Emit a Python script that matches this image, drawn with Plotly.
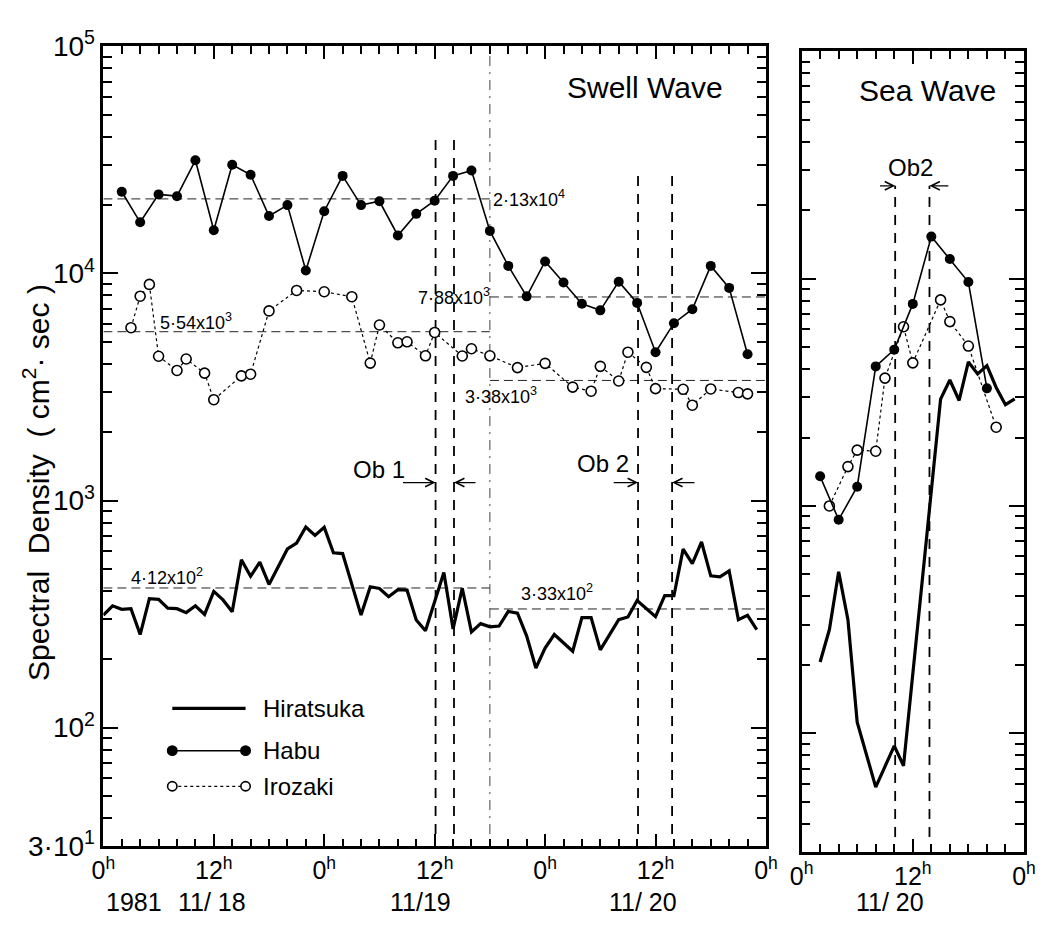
import math
import plotly.graph_objects as go

# ---------------- data ----------------
# Swell wave band, hours from 0h 11/18/1981
swell_hiratsuka_h = [0, 1, 2, 3, 4, 5, 6, 7, 8, 9, 10, 11, 12, 13, 14, 15, 16, 17, 18, 19,
                     20, 21, 22, 23, 24, 25, 26, 28, 29, 30, 31, 32, 33, 34, 35, 37, 38, 39,
                     40, 41, 42, 43, 44, 45, 46, 47, 48, 49, 51, 52, 53, 54, 56, 57, 58, 60,
                     61, 62, 63, 64, 65, 66, 67, 68, 69, 70, 71]
swell_hiratsuka = [313, 344, 332, 334, 257, 370, 367, 336, 334, 321, 344, 315, 398, 365, 324,
                   548, 464, 535, 427, 512, 612, 650, 765, 702, 762, 589, 584, 313, 417, 410,
                   377, 405, 403, 298, 267, 482, 272, 411, 264, 287, 278, 280, 325, 319, 253,
                   183, 224, 257, 217, 305, 305, 220, 299, 307, 363, 308, 381, 381, 611, 528,
                   657, 466, 461, 490, 299, 312, 270]

swell_habu_h = [2, 4, 6, 8, 10, 12, 14, 16, 18, 20, 22, 24, 26, 28, 30, 32, 34, 36, 38, 40,
                42, 44, 46, 48, 50, 52, 54, 56, 58, 60, 62, 64, 66, 68, 70]
swell_habu = [22900, 16800, 22300, 21900, 31500, 15500, 30100, 27200, 17900, 20000, 10300,
              18800, 26900, 20000, 20800, 14700, 18300, 20900, 26900, 28400, 15400, 10800,
              7930, 11300, 9130, 7360, 6880, 9200, 7420, 4500, 6040, 6960, 10800, 8640, 4410]

swell_irozaki_h = [3, 4, 5, 6, 8, 9, 11, 12, 15, 16, 18, 21, 24, 27, 29, 30, 32, 33, 35, 36,
                   39, 40, 42, 45, 48, 51, 53, 54, 56, 57, 59, 60, 63, 64, 66, 69, 70]
swell_irozaki = [5770, 7940, 8950, 4320, 3740, 4200, 3640, 2780, 3540, 3600, 6840, 8420, 8310,
                 7900, 4030, 5930, 4950, 5000, 4340, 5500, 4330, 4660, 4340, 3850, 4020, 3160,
                 3030, 3900, 3360, 4500, 3860, 3110, 3090, 2630, 3100, 2990, 2950]

# Sea wave band, hours from 0h 11/20
sea_hiratsuka_h = [2, 3, 4, 5, 6, 8, 10, 11, 15, 16, 17, 18, 19, 20, 21, 22, 23]
sea_hiratsuka = [206, 286, 513, 316, 112, 58, 88, 72, 2950, 3580, 2910, 4300, 3810, 4140,
                 3320, 2790, 2960]
sea_habu_h = [2, 4, 6, 8, 10, 12, 14, 16, 18, 20]
sea_habu = [1350, 870, 1215, 4110, 4870, 7740, 15300, 12200, 9660, 3290]
sea_irozaki_h = [3, 5, 6, 8, 9, 11, 12, 15, 16, 18, 21]
sea_irozaki = [1000, 1490, 1760, 1740, 3650, 6140, 4260, 8060, 6470, 5050, 2220]

# Period means (before / after 18h 11/19)
periods = [(0, 42), (42, 72)]
mean_habu = [2.13e4, 7.88e3]
mean_irozaki = [5.54e3, 3.38e3]
mean_hiratsuka = [4.12e2, 3.33e2]
period_split = 42

# Observation windows (hours from 0h 11/18)
ob1_window = [36.1, 38.1]
ob2_window = [58.1, 61.8]

x_tickvals = [0, 12, 24, 36, 48, 60, 72]
x_ticktext = ["0<sup>h</sup>", "12<sup>h</sup>", "0<sup>h</sup>", "12<sup>h</sup>",
              "0<sup>h</sup>", "12<sup>h</sup>", "0<sup>h</sup>"]
x2_tickvals = [0, 12, 24]
x2_ticktext = ["0<sup>h</sup>", "12<sup>h</sup>", "0<sup>h</sup>"]
y_tickvals = [30, 100, 1000, 10000, 100000]
y_ticktext = ["3·10<sup>1</sup>", "10<sup>2</sup>", "10<sup>3</sup>", "10<sup>4</sup>",
              "10<sup>5</sup>"]

# ---------------- styling ----------------
FONT = "Liberation Sans, Arial, sans-serif"
INK = "black"
W, H = 1054, 934


def pxx(v):
    return v / W


def pxy(v):
    return 1 - v / H


def ref_line(fig, xs, ys, xa, ya, dash, width=1.0, color="#222"):
    fig.add_trace(go.Scatter(x=xs, y=ys, mode="lines", xaxis=xa, yaxis=ya,
                             line=dict(color=color, width=width, dash=dash),
                             hoverinfo="skip", showlegend=False))


fig = go.Figure()

# period mean lines
for means in (mean_habu, mean_irozaki, mean_hiratsuka):
    for (h0, h1), m in zip(periods, means):
        ref_line(fig, [h0, h1], [m, m], "x", "y", "9px,5px", 1.0)

# period boundary
ref_line(fig, [period_split, period_split], [34, 1e5], "x", "y", "10px,6px,2px,6px", 1.0,
         "#444")

# observation windows
for h in ob1_window:
    ref_line(fig, [h, h], [34, 3.87e4], "x", "y", "10px,8px", 1.8, INK)
for h in ob2_window:
    ref_line(fig, [h, h], [34, 2.77e4], "x", "y", "10px,8px", 1.8, INK)
    ref_line(fig, [h - 48, h - 48], [35, 2.56e4], "x2", "y2", "10px,8px", 1.8, INK)


def add_series(xa, ya, hh, hv, bh, bv, ih, iv):
    fig.add_trace(go.Scatter(x=hh, y=hv, mode="lines", xaxis=xa, yaxis=ya,
                             line=dict(color=INK, width=3.2), showlegend=False,
                             name="Hiratsuka"))
    fig.add_trace(go.Scatter(x=ih, y=iv, mode="lines+markers", xaxis=xa, yaxis=ya,
                             line=dict(color=INK, width=1.2, dash="dot"),
                             marker=dict(symbol="circle", size=10, color="white",
                                         line=dict(color=INK, width=1.6)),
                             showlegend=False, name="Irozaki"))
    fig.add_trace(go.Scatter(x=bh, y=bv, mode="lines+markers", xaxis=xa, yaxis=ya,
                             line=dict(color=INK, width=1.6),
                             marker=dict(symbol="circle", size=10, color=INK),
                             showlegend=False, name="Habu"))


add_series("x", "y", swell_hiratsuka_h, swell_hiratsuka, swell_habu_h, swell_habu,
           swell_irozaki_h, swell_irozaki)
add_series("x2", "y2", sea_hiratsuka_h, sea_hiratsuka, sea_habu_h, sea_habu,
           sea_irozaki_h, sea_irozaki)

annotations = []


def note(text, x, y, xref="x", yref="y", size=18, xanchor="center", yanchor="middle",
         angle=0):
    annotations.append(dict(text=text, x=x, y=y, xref=xref, yref=yref, showarrow=False,
                            xanchor=xanchor, yanchor=yanchor, textangle=angle,
                            font=dict(family=FONT, size=size, color=INK)))


def arrow(tip, tail, yval, xref="x", yref="y"):
    ly = math.log10(yval)
    annotations.append(dict(text="", x=tip, y=ly, ax=tail, ay=ly, xref=xref, yref=yref,
                            axref=xref, ayref=yref, showarrow=True, arrowhead=5,
                            arrowsize=1.4, arrowwidth=1.2, arrowcolor=INK))


# mean labels
note("2·13x10<sup>4</sup>", 46.3, math.log10(mean_habu[0]))
note("7·88x10<sup>3</sup>", 38.1, math.log10(mean_habu[1]))
note("5·54x10<sup>3</sup>", 10.1, 3.789)
note("3·38x10<sup>3</sup>", 43.2, 3.464)
note("4·12x10<sup>2</sup>", 6.9, 2.667)
note("3·33x10<sup>2</sup>", 49.3, 2.593)

# observation window labels and arrows
note("Ob 1", 30.0, math.log10(1.37e3), size=24)
note("Ob 2", 54.3, math.log10(1.46e3), size=24)
note("Ob2", 11.8, math.log10(3.08e4), xref="x2", yref="y2", size=24)
arrow(ob1_window[0], 32.4, 1.2e3)
arrow(ob1_window[1], 40.6, 1.2e3)
arrow(ob2_window[0], 55.3, 1.2e3)
arrow(ob2_window[1], 64.4, 1.2e3)
arrow(ob2_window[0] - 48, 8.3, 2.56e4, "x2", "y2")
arrow(ob2_window[1] - 48, 16.0, 2.56e4, "x2", "y2")

# panel titles
note("Swell Wave", pxx(648), pxy(70), "paper", "paper", size=30)
note("Sea Wave", pxx(937), pxy(73), "paper", "paper", size=30)

# date row under the hour ticks
DATE_Y = pxy(917)
note("1981", 3.3, DATE_Y, "x", "paper", size=25)
note("11/ 18", 11.8, DATE_Y, "x", "paper", size=25)
note("11/19", 34.5, DATE_Y, "x", "paper", size=25)
note("11/ 20", 58.6, DATE_Y, "x", "paper", size=25)
note("11/ 20", 9.5, DATE_Y, "x2", "paper", size=25)

# y-axis title
note("Spectral  Density  ( cm<sup>2</sup>· sec )", pxx(25), pxy(481), "paper", "paper",
     size=30, angle=-90)

# hand-drawn style legend
shapes = []
legend_rows = [("Hiratsuka", 716, "solid", 3.2, None),
               ("Habu", 760, "solid", 1.6, INK),
               ("Irozaki", 797, "dot", 1.2, "white")]
for label, yrow, dash, lw, fill in legend_rows:
    x0, x1 = 164, 239
    shapes.append(dict(type="line", xref="paper", yref="paper", x0=pxx(x0), x1=pxx(x1),
                       y0=pxy(yrow), y1=pxy(yrow), line=dict(color=INK, width=lw, dash=dash)))
    if fill is not None:
        r = 4.8
        for xc in (x0, x1):
            shapes.append(dict(type="circle", xref="paper", yref="paper",
                               x0=pxx(xc - r), x1=pxx(xc + r), y0=pxy(yrow + r),
                               y1=pxy(yrow - r), fillcolor=fill,
                               line=dict(color=INK, width=1.6)))
    note(label, pxx(255), pxy(yrow), "paper", "paper", size=24, xanchor="left")

minor_y = [m * 10 ** k for k in range(1, 5) for m in range(2, 10) if m * 10 ** k > 30]

common_x = dict(ticks="inside", ticklen=13, tickwidth=2, tickcolor=INK,
                minor=dict(dtick=2, tick0=0, ticks="inside", ticklen=8, tickwidth=2,
                           tickcolor=INK),
                showline=True, linewidth=2.5, linecolor=INK, mirror="ticks",
                showgrid=False, zeroline=False,
                tickfont=dict(family=FONT, size=25, color=INK))
common_y = dict(type="log", range=[math.log10(30), 5], tickvals=y_tickvals,
                ticks="inside", ticklen=15, tickwidth=2, tickcolor=INK,
                minor=dict(tickvals=minor_y, ticks="inside", ticklen=9, tickwidth=2,
                           tickcolor=INK),
                showline=True, linewidth=2.5, linecolor=INK, mirror="ticks",
                showgrid=False, zeroline=False,
                tickfont=dict(family=FONT, size=28, color=INK))

fig.update_layout(
    width=W, height=H, autosize=False,
    margin=dict(l=0, r=0, t=0, b=0),
    paper_bgcolor="white", plot_bgcolor="white",
    showlegend=False,
    xaxis=dict(domain=[0.0887, 0.7320], range=[0, 72], tickvals=x_tickvals,
               ticktext=x_ticktext, anchor="y", **common_x),
    xaxis2=dict(domain=[0.7666, 0.9825], range=[0, 24], tickvals=x2_tickvals,
                ticktext=x2_ticktext, anchor="y2", **common_x),
    yaxis=dict(domain=[0.0798, 0.9706], ticktext=y_ticktext, anchor="x", **common_y),
    yaxis2=dict(domain=[0.0733, 0.9652], showticklabels=False, anchor="x2", **common_y),
    annotations=annotations,
    shapes=shapes,
)

fig.write_html("out.html")
